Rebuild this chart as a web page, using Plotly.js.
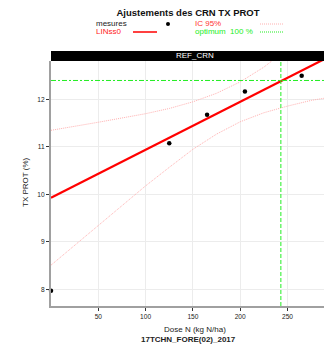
<!DOCTYPE html>
<html>
<head>
<meta charset="utf-8">
<script src="https://cdn.plot.ly/plotly-3.0.1.min.js"></script>
<style>html,body{margin:0;padding:0;background:#fff;overflow:hidden}#chart{width:324px;height:346px}</style>
</head>
<body>
<div id="chart"></div>
<script>
// ---- data ----
const dose = [0, 125, 165, 205, 265];
const txProt = [7.97, 11.08, 11.68, 12.17, 12.50];
const fitDose = [0, 290];
const fitProt = [9.93, 12.86];
const bandDose = [0, 25, 50, 75, 100, 125, 150, 175, 200, 225, 250, 275, 290];
const icUpper = [11.35, 11.43, 11.52, 11.61, 11.70, 11.81, 11.95, 12.13, 12.37, 12.68, 13.06, 13.44, 13.69];
const icLower = [8.51, 8.93, 9.36, 9.77, 10.18, 10.57, 10.95, 11.27, 11.53, 11.72, 11.86, 11.98, 12.03];
const optDose = 243;
const optProt = 12.4;
const xTicks = [50, 100, 150, 200, 250];
const yTicks = [8, 9, 10, 11, 12];
const title = 'Ajustements des CRN TX PROT';
const panelLabel = 'REF_CRN';
const xLabel = 'Dose N (kg N/ha)';
const xSub = '17TCHN_FORE(02)_2017';
const yLabel = 'TX PROT (%)';

// ---- layout helpers (pixel -> paper) ----
const W = 324, H = 346, L = 51, R = 0, T = 61, B = 40;
const pw = W - L - R, ph = H - T - B;
const px = v => (v - L) / pw;
const py = v => (H - B - v) / ph;
const FONT = 'Liberation Sans, Arial, sans-serif';
const RED = '#ff0000', PINK = '#ffb0b0', GREEN = '#22ee22';

const traces = [
  {x: bandDose, y: icUpper, mode: 'lines', line: {color: PINK, width: 1, dash: '1px,1px'}, hoverinfo: 'skip'},
  {x: bandDose, y: icLower, mode: 'lines', line: {color: PINK, width: 1, dash: '1px,1px'}, hoverinfo: 'skip'},
  {x: fitDose, y: fitProt, mode: 'lines', line: {color: RED, width: 2.2}},
  {x: dose, y: txProt, mode: 'markers', marker: {color: '#000', size: 4.5}, cliponaxis: false}
];

const shapes = [
  {type: 'line', xref: 'x', yref: 'paper', x0: optDose, x1: optDose, y0: 0, y1: 1, line: {color: GREEN, width: 1, dash: '4px,2px'}},
  {type: 'line', xref: 'paper', yref: 'y', x0: 0, x1: 1, y0: optProt, y1: optProt, line: {color: GREEN, width: 1, dash: '5px,2px,2px,2px'}},
  {type: 'rect', xref: 'paper', yref: 'paper', x0: 0, x1: 1, y0: 1, y1: py(51), fillcolor: '#000', line: {width: 0}},
  // legend keys
  {type: 'line', xref: 'paper', yref: 'paper', x0: px(260), x1: px(283), y0: py(24), y1: py(24), line: {color: PINK, width: 1, dash: '1px,1px'}},
  {type: 'line', xref: 'paper', yref: 'paper', x0: px(133), x1: px(157), y0: py(32), y1: py(32), line: {color: RED, width: 1.5}},
  {type: 'line', xref: 'paper', yref: 'paper', x0: px(260), x1: px(283), y0: py(32), y1: py(32), line: {color: GREEN, width: 1, dash: '1px,1px'}},
  {type: 'circle', xref: 'paper', yref: 'paper', x0: px(166), x1: px(170), y0: py(26), y1: py(22), fillcolor: '#000', line: {width: 0}}
];

const ann = (t, x, y, o) => Object.assign({text: t, xref: 'paper', yref: 'paper', x: px(x), y: py(y), showarrow: false, xanchor: 'left', yanchor: 'middle', font: {family: FONT, size: 8, color: '#222'}}, o || {});

const annotations = [
  ann(panelLabel, 195, 56, {xanchor: 'center', font: {family: FONT, size: 8, color: '#fff'}}),
  ann('mesures', 94, 24),
  ann('IC 95%', 193, 24, {font: {family: FONT, size: 8, color: '#ff3333'}}),
  ann('LINss0', 94, 32, {font: {family: FONT, size: 8, color: '#ff2222'}}),
  ann('optimum  100 %', 193, 32, {font: {family: FONT, size: 8, color: GREEN}}),
  ann(xLabel, 195, 329, {xanchor: 'center'}),
  ann('<b>' + xSub + '</b>', 188, 339, {xanchor: 'center'}),
  ann(yLabel, 25, 182, {xanchor: 'center', textangle: -90})
];

const layout = {
  width: W, height: H,
  margin: {l: L, r: R, t: T, b: B, pad: 0},
  paper_bgcolor: '#fff', plot_bgcolor: '#fff',
  showlegend: false,
  title: {text: '<b>' + title + '</b>', x: 188 / W, xanchor: 'center', xref: 'container', y: 1 - 12.5 / H, yanchor: 'middle', yref: 'container', font: {family: FONT, size: 9.5, color: '#111'}},
  xaxis: {range: [0, 288.6], tickvals: xTicks, ticktext: xTicks.map(String), showgrid: true, gridcolor: '#ececec', gridwidth: 1, zeroline: false,
          showline: true, linecolor: '#a0a0a0', linewidth: 2, ticks: 'outside', ticklen: 3, tickcolor: '#333', tickwidth: 1,
          tickfont: {family: FONT, size: 6.6, color: '#222'}},
  yaxis: {range: [7.65, 12.81], tickvals: yTicks, ticktext: yTicks.map(String), showgrid: true, gridcolor: '#ececec', gridwidth: 1, zeroline: false,
          showline: true, linecolor: '#a0a0a0', linewidth: 2, ticks: 'outside', ticklen: 3, tickcolor: '#333', tickwidth: 1,
          tickfont: {family: FONT, size: 6.6, color: '#222'}},
  shapes: shapes,
  annotations: annotations
};

Plotly.newPlot('chart', traces, layout, {displayModeBar: false, staticPlot: true});
</script>
</body>
</html>
